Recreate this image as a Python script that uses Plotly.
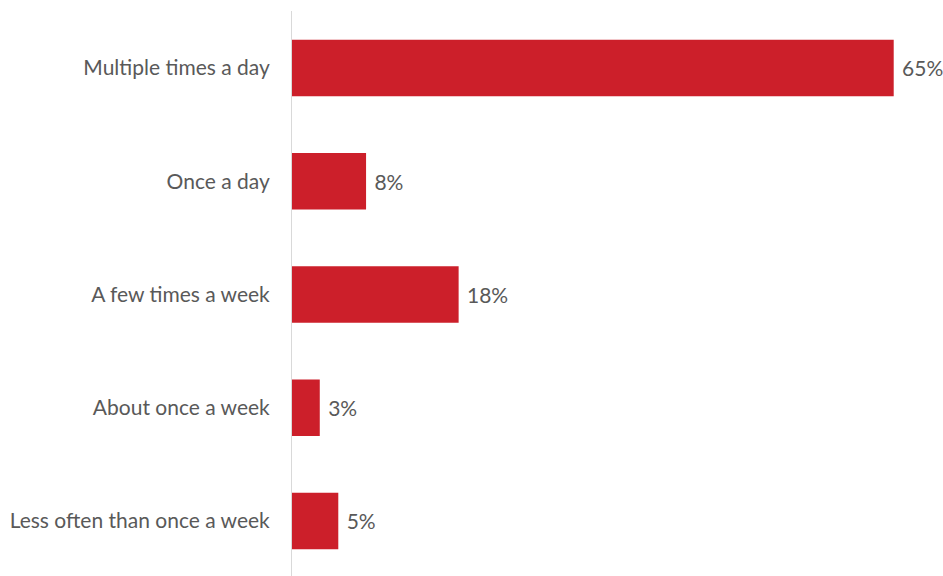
import plotly.graph_objects as go

categories = [
    "Multiple times a day",
    "Once a day",
    "A few times a week",
    "About once a week",
    "Less often than once a week",
]
values = [65, 8, 18, 3, 5]
value_labels = [f"{v}%" for v in values]

BAR_COLOR = "#CC1F2A"
TEXT_COLOR = "#595959"
FONT = "Lato, 'Open Sans', sans-serif"

fig = go.Figure(
    go.Bar(
        x=values,
        y=categories,
        orientation="h",
        width=0.5,
        marker=dict(color=BAR_COLOR, line=dict(width=0)),
        text=value_labels,
        textposition="outside",
        textfont=dict(family=FONT, size=21, color=TEXT_COLOR),
        cliponaxis=False,
    )
)

# Value labels sit a little further from the bar ends than the default padding
fig.update_traces(texttemplate=" %{text}")

fig.update_layout(
    width=943,
    height=576,
    margin=dict(l=292, r=3, t=11, b=0),
    paper_bgcolor="white",
    plot_bgcolor="white",
    showlegend=False,
    uniformtext=dict(mode=False),
    font=dict(family=FONT, size=21, color=TEXT_COLOR),
    xaxis=dict(
        range=[0, 70],
        visible=False,
        showgrid=False,
        zeroline=False,
    ),
    yaxis=dict(
        type="category",
        categoryorder="array",
        categoryarray=categories,
        range=[4.486, -0.503],
        showgrid=False,
        zeroline=False,
        showline=True,
        linecolor="#D9D9D9",
        linewidth=1,
        ticks="",
        ticklabelstandoff=17,
        tickfont=dict(family=FONT, size=21, color=TEXT_COLOR),
    ),
)

fig.write_html("out.html")
